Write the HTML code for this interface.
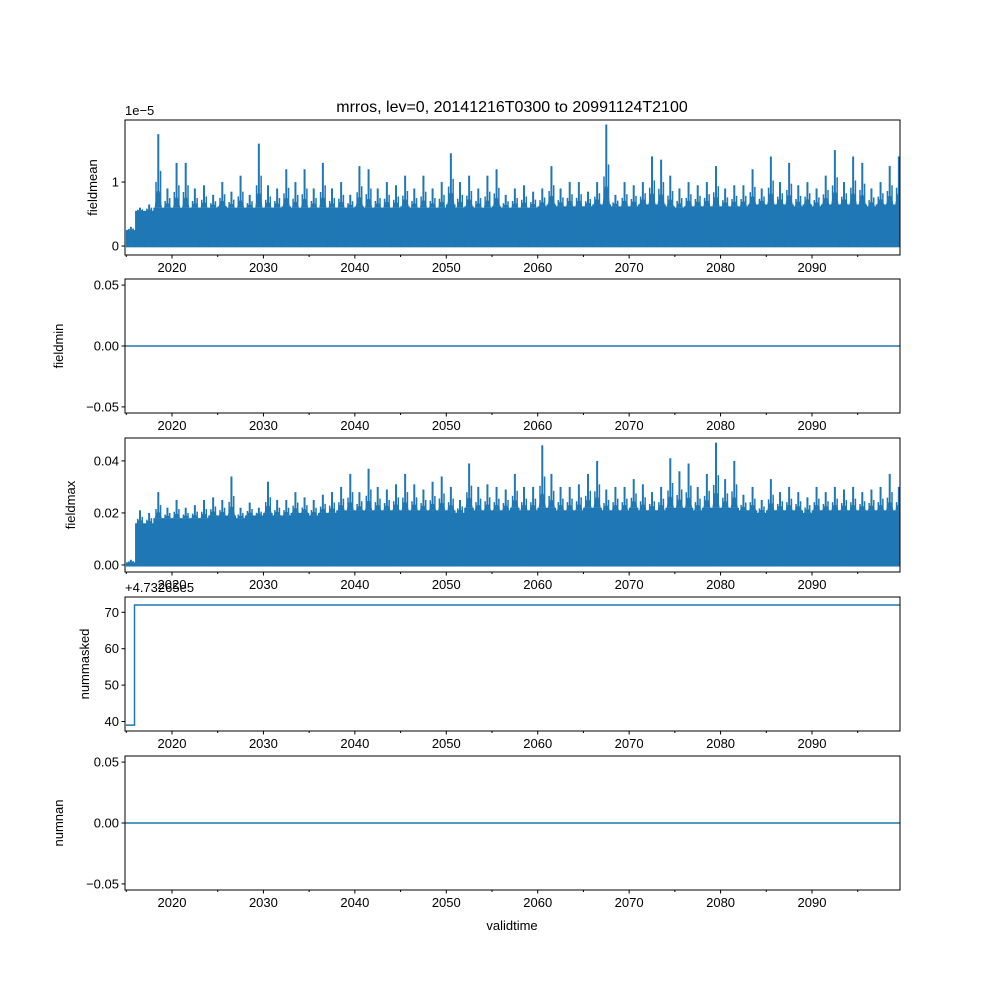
<!DOCTYPE html>
<html><head><meta charset="utf-8"><style>
body{margin:0;background:#fff;}
svg{display:block;font-family:"Liberation Sans","DejaVu Sans",sans-serif;}
</style></head><body>
<svg id="fig" width="1000" height="1000" viewBox="0 0 1000 1000">
<rect width="1000" height="1000" fill="#fff"/>
<text x="512" y="112" font-size="16" text-anchor="middle">mrros, lev=0, 20141216T0300 to 20991124T2100</text>
<g id="plots"></g>
</svg>
<script>
const years = [];
for (let y = 2015; y <= 2099; y++) years.push(y);
const meanPeaks = [0.3,0.6,0.65,1.75,0.9,1.3,1.3,0.9,0.95,0.8,1.0,0.85,1.1,0.8,1.6,0.95,0.9,1.2,1.0,1.2,0.9,1.3,0.9,1.0,0.8,1.25,1.2,0.9,1.0,0.95,1.1,0.9,1.1,0.9,1.0,1.45,1.0,1.1,0.9,1.1,1.2,0.8,0.9,0.95,0.85,0.9,1.25,0.9,1.0,1.0,0.85,1.0,1.9,0.8,1.0,0.95,1.0,1.4,1.35,1.1,0.9,1.0,0.95,1.0,1.25,0.9,0.95,0.95,1.2,0.9,1.4,1.0,1.3,0.95,1.0,0.9,1.1,1.5,1.0,1.4,1.3,0.9,1.0,1.25,1.4];
const meanTypical = [0.25,0.55,0.55,0.6,0.6,0.6,0.6,0.6,0.6,0.6,0.62,0.6,0.6,0.6,0.6,0.6,0.6,0.62,0.6,0.6,0.6,0.6,0.6,0.6,0.6,0.62,0.6,0.6,0.6,0.6,0.62,0.6,0.6,0.6,0.6,0.65,0.6,0.62,0.6,0.6,0.62,0.6,0.6,0.6,0.6,0.62,0.65,0.62,0.62,0.62,0.62,0.65,0.65,0.62,0.62,0.62,0.65,0.65,0.65,0.62,0.6,0.62,0.62,0.62,0.62,0.62,0.62,0.62,0.65,0.65,0.65,0.65,0.65,0.62,0.65,0.62,0.65,0.65,0.65,0.65,0.65,0.62,0.65,0.65,0.65];
const maxPeaks = [0.002,0.021,0.02,0.028,0.022,0.025,0.022,0.023,0.025,0.026,0.025,0.034,0.022,0.024,0.022,0.032,0.025,0.025,0.028,0.026,0.025,0.027,0.028,0.03,0.035,0.028,0.037,0.03,0.029,0.031,0.035,0.031,0.029,0.032,0.034,0.03,0.025,0.039,0.03,0.031,0.03,0.029,0.035,0.03,0.03,0.046,0.035,0.03,0.03,0.031,0.035,0.04,0.029,0.03,0.03,0.033,0.031,0.028,0.03,0.041,0.036,0.039,0.03,0.035,0.047,0.033,0.04,0.027,0.03,0.025,0.033,0.028,0.03,0.028,0.026,0.03,0.028,0.03,0.029,0.03,0.028,0.029,0.03,0.035,0.03];
const maxTypical = [0.001,0.016,0.016,0.018,0.018,0.018,0.018,0.018,0.018,0.019,0.019,0.019,0.018,0.019,0.019,0.02,0.019,0.019,0.02,0.02,0.019,0.02,0.02,0.021,0.021,0.021,0.021,0.021,0.021,0.021,0.021,0.021,0.021,0.021,0.021,0.021,0.02,0.022,0.021,0.021,0.021,0.021,0.022,0.021,0.021,0.022,0.022,0.021,0.021,0.021,0.022,0.022,0.021,0.021,0.021,0.022,0.021,0.021,0.021,0.022,0.022,0.022,0.021,0.022,0.022,0.022,0.022,0.021,0.021,0.02,0.021,0.021,0.021,0.021,0.02,0.021,0.021,0.021,0.021,0.021,0.021,0.021,0.021,0.021,0.021];
const maskTimes = [2014.96, 2015.9, 2015.9, 2099.9];
const maskValues = [39, 39, 72, 72];
const xTicks = [2020,2030,2040,2050,2060,2070,2080,2090];
const xMinor = [2015,2025,2035,2045,2055,2065,2075,2085,2095];

const NS="http://www.w3.org/2000/svg";
const root=document.getElementById('plots');
const L=125,R=900,C='#1f77b4';
const xs=v=>172+(v-2020)*(812-172)/70;
function el(t,a,p){const e=document.createElementNS(NS,t);for(const k in a)e.setAttribute(k,a[k]);(p||root).appendChild(e);return e;}
function txt(s,a,p){const e=el('text',a,p);e.textContent=s;return e;}

const panels=[
 {name:'fieldmean',top:120,bot:255,y0:-0.14,y1:1.97,ticks:[0,1],fmt:v=>String(v),offset:'1e\u22125',lx:97},
 {name:'fieldmin',top:279,bot:413,y0:-0.055,y1:0.055,ticks:[-0.05,0,0.05],fmt:v=>(v<0?'\u2212':'')+Math.abs(v).toFixed(2),lx:63},
 {name:'fieldmax',top:438,bot:572,y0:-0.0027,y1:0.0488,ticks:[0,0.02,0.04],fmt:v=>v.toFixed(2),lx:75},
 {name:'nummasked',top:597,bot:731,y0:37.4,y1:74.2,ticks:[40,50,60,70],fmt:v=>String(v),offset:'+4.73265e5',lx:89},
 {name:'numnan',top:756,bot:890,y0:-0.055,y1:0.055,ticks:[-0.05,0,0.05],fmt:v=>(v<0?'\u2212':'')+Math.abs(v).toFixed(2),lx:63}
];
panels.forEach((p,i)=>{
 const g=el('g',{});
 
 
 const ys=v=>p.bot-(v-p.y0)/(p.y1-p.y0)*(p.bot-p.top);
 const clipId='c'+i;
 const cp=el('clipPath',{id:clipId},g);el('rect',{x:L,y:p.top,width:R-L,height:p.bot-p.top},cp);
 const dg=el('g',{'clip-path':'url(#'+clipId+')'},g);
 
 
 if(p.name==='fieldmean'||p.name==='fieldmax'){
  const pk=p.name==='fieldmean'?meanPeaks:maxPeaks, ty=p.name==='fieldmean'?meanTypical:maxTypical;
  const lowBase=p.name==='fieldmean'?-0.02:-0.0006;
  years.forEach((y,k)=>{
   const x0=xs(y-0.04),x1=xs(y+0.96);
   const r=el('rect',{x:x0,y:ys(ty[k]),width:x1-x0+0.5,height:ys(lowBase)-ys(ty[k]),fill:C},dg);
   
   
   const mid=(ty[k]+pk[k])/2;
   // seasonal hump
   const h=ty[k]+(mid-ty[k])*0.45;
   el('polygon',{points:`${xs(y+0.1)},${ys(ty[k])} ${xs(y+0.35)},${ys(h)} ${xs(y+0.65)},${ys(h)} ${xs(y+0.9)},${ys(ty[k])}`,fill:C},dg);
   el('line',{x1:xs(y+0.25),x2:xs(y+0.25),y1:ys(ty[k]),y2:ys(ty[k]+(mid-ty[k])*0.7),stroke:C,'stroke-width':1.5},dg);
   el('line',{x1:xs(y+0.75),x2:xs(y+0.75),y1:ys(ty[k]),y2:ys(mid),stroke:C,'stroke-width':1.5},dg);
   const s=el('line',{x1:xs(y+0.5),x2:xs(y+0.5),y1:ys(ty[k]),y2:ys(pk[k]),stroke:C,'stroke-width':2},dg);
   
   
  });
 } else if(p.name==='nummasked'){
  const pts=maskTimes.map((t,k)=>xs(t)+','+ys(maskValues[k])).join(' ');
  el('polyline',{points:pts,fill:'none',stroke:C,'stroke-width':1.5},dg);
 } else {
  el('line',{x1:L,x2:R,y1:ys(0),y2:ys(0),stroke:C,'stroke-width':1.5},dg);
 }
 el('rect',{x:L,y:p.top,width:R-L,height:p.bot-p.top,fill:'none',stroke:'#000','stroke-width':1},g);
 p.ticks.forEach(t=>{
  const y=ys(t);
  el('line',{x1:L-3.5,x2:L,y1:y,y2:y,stroke:'#000'},g);
  txt(p.fmt(t),{x:L-6,y:y+4.5,'font-size':13,'text-anchor':'end'},g);
 });
 xTicks.forEach(t=>{
  el('line',{x1:xs(t),x2:xs(t),y1:p.bot,y2:p.bot+3.5,stroke:'#000'},g);
  txt(String(t),{x:xs(t),y:p.bot+17,'font-size':13,'text-anchor':'middle'},g);
 });
 xMinor.forEach(t=>{if(xs(t)>=L)el('line',{x1:xs(t),x2:xs(t),y1:p.bot,y2:p.bot+2,stroke:'#000'},g);});
 const yl=txt(p.name,{x:0,y:0,'font-size':13,'text-anchor':'middle',transform:'translate('+p.lx+','+((p.top+p.bot)/2)+') rotate(-90)'},g);
 
 
 if(p.offset){txt(p.offset,{x:L,y:p.top-5,'font-size':13},g);}
});
txt('validtime',{x:512,y:930,'font-size':13,'text-anchor':'middle',});
</script>
</body></html>
